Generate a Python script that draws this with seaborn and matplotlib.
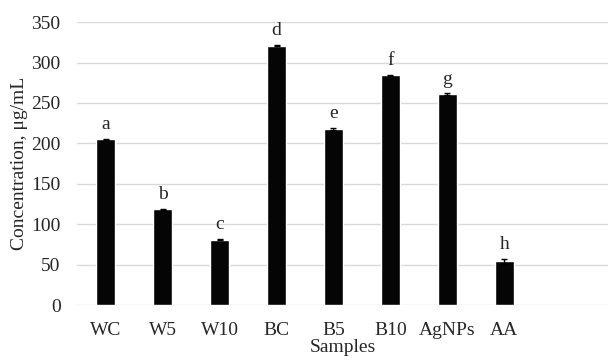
import pandas as pd
import matplotlib
matplotlib.use("Agg")
import matplotlib.pyplot as plt
import seaborn as sns

# ── Data ─────────────────────────────────────────────────────────────────────
samples = ["WC", "W5", "W10", "BC", "B5", "B10", "AgNPs", "AA"]
concentration = [205, 118.5, 81, 321, 218, 284, 261, 54]
errors = [1, 1, 1, 1, 1, 1, 1, 3]
letters = ["a", "b", "c", "d", "e", "f", "g", "h"]

df = pd.DataFrame({"sample": samples, "conc": concentration, "err": errors})

# ── Style ────────────────────────────────────────────────────────────────────
sns.set_style("white")
plt.rcParams["font.family"] = ["Liberation Serif", "DejaVu Serif"]

fig = plt.figure(figsize=(6.08, 3.62), dpi=100)
ax = fig.add_axes([0.127, 0.157, 0.873, 0.782])

sns.barplot(data=df, x="sample", y="conc", color="#050505", width=0.33,
            errorbar=None, saturation=1, ax=ax, zorder=3)
ax.errorbar(range(len(samples)), df["conc"], yerr=df["err"], fmt="none",
            ecolor="black", elinewidth=1, capsize=2.5, capthick=1, zorder=4)

for i, (v, e, l) in enumerate(zip(concentration, errors, letters)):
    ax.text(i, v + e + 7, l, ha="center", va="bottom", fontsize=14)

ax.set_ylim(0, 350)
ax.set_xlim(-0.5, 8.82)
ax.set_yticks(range(0, 351, 50))
ax.yaxis.grid(True, color="#d9d9d9", linewidth=1, zorder=0)
ax.set_axisbelow(True)
for s in ax.spines.values():
    s.set_visible(False)
ax.tick_params(axis="y", length=0, labelsize=14, pad=12)
ax.tick_params(axis="x", length=0, labelsize=14, pad=12)
ax.set_xlabel("Samples", fontsize=14, labelpad=0)
ax.set_ylabel("Concentration, μg/mL", fontsize=14, labelpad=2)

fig.savefig("out.png", dpi=100)
